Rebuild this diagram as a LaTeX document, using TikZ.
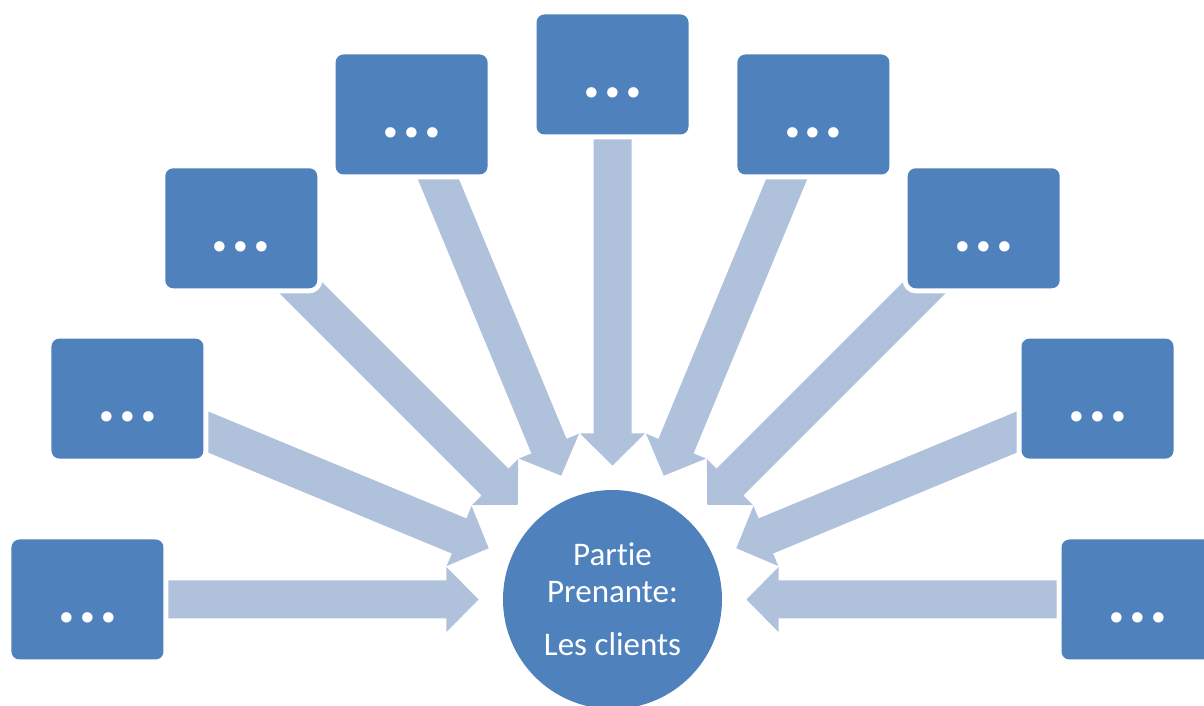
\documentclass[tikz,border=0pt]{standalone}
\usepackage{fontspec}
\setmainfont{Carlito}[Ligatures=NoCommon]
\usetikzlibrary{calc,backgrounds}
\definecolor{boxblue}{HTML}{4F81BD}
\definecolor{arrowblue}{HTML}{B0C1DC}
\newcommand{\onedot}{\makebox[21pt]{.}}
\tikzset{
  smallbox/.style={rectangle, rounded corners=8pt, fill=boxblue,
    minimum width=152pt, minimum height=120pt, inner sep=0pt,
    text=white, font=\fontsize{70}{70}\selectfont\bfseries,
    text height=46pt, text depth=0pt,
    preaction={draw=white, line width=10pt}},
  hub/.style={circle, fill=boxblue, minimum size=219pt, inner sep=0pt,
    text=white, align=center, font=\fontsize{33}{37}\selectfont,
    preaction={draw=white, line width=10pt}},
  arrowfill/.style={fill=arrowblue}
}
\newcommand{\blockarrow}[2]{%
  \coordinate (hb) at ($(#2)!32pt!(#1.center)$);
  \fill[arrowfill] ($(#1.center)!19pt!90:(#2)$)
    -- ($(hb)!19pt!-90:(#1.center)$)
    -- ($(hb)!32.5pt!-90:(#1.center)$)
    -- (#2)
    -- ($(hb)!32.5pt!90:(#1.center)$)
    -- ($(hb)!19pt!90:(#1.center)$)
    -- ($(#1.center)!19pt!-90:(#2)$) -- cycle;}
\begin{document}
\begin{tikzpicture}[x=1pt,y=1pt]
\useasboundingbox (-612.5,-106.5) rectangle (591.5,599.5);
\clip (-612.5,-106.5) rectangle (591.5,599.5);
\node[hub] (hub) at (0,0) {Partie\\Prenante:\\[16pt]Les clients};
\foreach \k/\a in {1/180,2/157.5,3/135,4/112.5,5/90,6/67.5,7/45,8/22.5,9/0} {
  \node[smallbox] (b\k) at (\a:525pt) {\onedot\onedot\onedot};
  \coordinate (t\k) at (\a:134pt);
}
\begin{pgfonlayer}{background}
\foreach \k in {1,...,9} {\blockarrow{b\k}{t\k}}
\end{pgfonlayer}
\end{tikzpicture}
\end{document}
